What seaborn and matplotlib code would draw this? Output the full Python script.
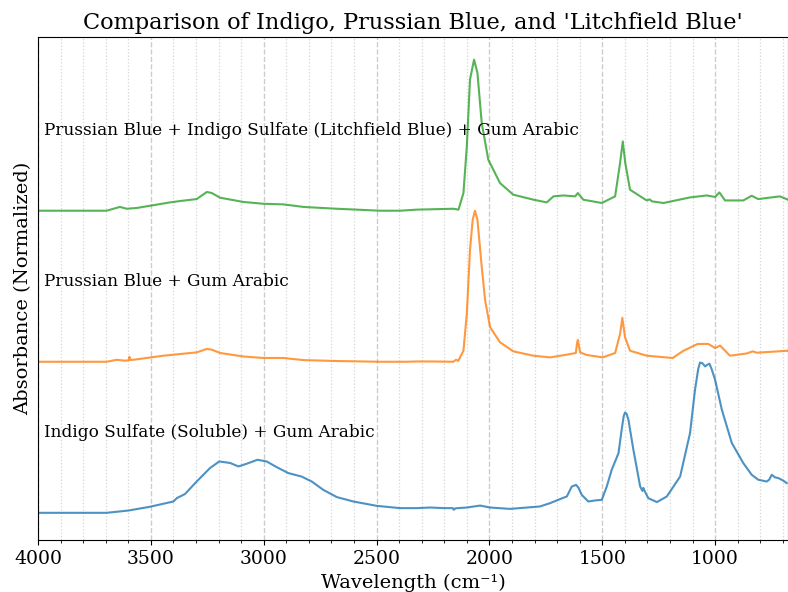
import numpy as np
import pandas as pd
import matplotlib
matplotlib.use("Agg")
import matplotlib.pyplot as plt
import seaborn as sns
from matplotlib.ticker import MultipleLocator

indigo_wn = [4000, 3850, 3696, 3600, 3504, 3400, 3385, 3349, 3297, 3238, 3197, 3149, 3112,
             3075, 3028, 2987, 2942, 2891, 2832, 2787, 2736, 2676, 2603, 2499, 2396, 2322,
             2263, 2200, 2162, 2158, 2150, 2100, 2041, 1997, 1908, 1776, 1731, 1680, 1657,
             1635, 1616, 1605, 1591, 1562, 1530, 1502, 1480, 1458, 1428, 1414, 1405, 1399,
             1392, 1384, 1362, 1332, 1322, 1318, 1314, 1296, 1258, 1214, 1155, 1111, 1089,
             1075, 1067, 1056, 1044, 1035, 1025, 1015, 1000, 970, 926, 875, 838, 809, 771,
             760, 749, 735, 720, 700, 683]
indigo_ab = [0.0, 0.0, 0.0, 0.015, 0.04, 0.075, 0.097, 0.124, 0.207, 0.296, 0.34, 0.33, 0.307,
             0.325, 0.351, 0.34, 0.302, 0.263, 0.24, 0.207, 0.152, 0.104, 0.075, 0.046, 0.031, 0.031,
             0.035, 0.031, 0.031, 0.02, 0.03, 0.035, 0.048, 0.035, 0.026, 0.042, 0.064, 0.095, 0.108,
             0.174, 0.185, 0.165, 0.119, 0.075, 0.082, 0.086, 0.174, 0.285, 0.395, 0.55, 0.64, 0.664,
             0.655, 0.616, 0.417, 0.174, 0.145, 0.165, 0.15, 0.097, 0.071, 0.108, 0.24, 0.528, 0.815,
             0.95, 0.995, 0.99, 0.969, 0.98, 0.987, 0.95, 0.88, 0.682, 0.462, 0.329, 0.252, 0.219, 0.207,
             0.22, 0.252, 0.235, 0.23, 0.215, 0.197]

prussian_wn = [4000, 3850, 3696, 3651, 3614, 3598, 3595, 3590, 3578, 3445, 3297, 3252, 3230,
               3193, 3090, 3002, 2913, 2824, 2676, 2485, 2366, 2322, 2263, 2160, 2148, 2138,
               2115, 2100, 2086, 2074, 2064, 2053, 2034, 2019, 1997, 1953, 1894, 1805, 1731,
               1657, 1617, 1612, 1608, 1603, 1598, 1569, 1498, 1443, 1421, 1411, 1399, 1377,
               1303, 1188, 1140, 1077, 1030, 1000, 978, 934, 860, 833, 816, 677]
prussian_ab = [0.0, 0.0, 0.0, 0.013, 0.007, 0.01, 0.033, 0.012, 0.013, 0.04, 0.062, 0.085, 0.08,
               0.058, 0.035, 0.025, 0.025, 0.011, 0.005, 0.0, 0.0, 0.002, 0.002, 0.0, 0.013, 0.006,
               0.073, 0.318, 0.74, 0.94, 1.0, 0.94, 0.629, 0.407, 0.229, 0.129, 0.069, 0.04, 0.029,
               0.047, 0.058, 0.12, 0.145, 0.1, 0.062, 0.045, 0.029, 0.058, 0.185, 0.291, 0.162, 0.073,
               0.04, 0.025, 0.073, 0.118, 0.118, 0.091, 0.107, 0.04, 0.055, 0.069, 0.06, 0.073]

litchfield_wn = [4000, 3850, 3696, 3637, 3607, 3563, 3415, 3371, 3297, 3252, 3230, 3193, 3090,
                 3002, 2913, 2824, 2676, 2485, 2396, 2322, 2160, 2137, 2115, 2100, 2086, 2068,
                 2053, 2034, 2005, 1953, 1894, 1805, 1746, 1716, 1672, 1620, 1608, 1584, 1502,
                 1443, 1421, 1409, 1398, 1377, 1303, 1290, 1280, 1229, 1111, 1037, 1000, 981, 956,
                 875, 838, 809, 713, 677]
litchfield_ab = [0.0, 0.0, 0.0, 0.025, 0.013, 0.018, 0.055, 0.064, 0.077, 0.124, 0.117, 0.086,
                 0.058, 0.046, 0.042, 0.025, 0.013, 0.0, 0.0, 0.007, 0.013, 0.007, 0.117, 0.426, 0.868,
                 1.0, 0.912, 0.581, 0.338, 0.183, 0.106, 0.073, 0.055, 0.095, 0.101, 0.095, 0.117,
                 0.073, 0.051, 0.095, 0.316, 0.459, 0.316, 0.139, 0.068, 0.075, 0.062, 0.051, 0.088,
                 0.101, 0.091, 0.121, 0.068, 0.068, 0.099, 0.077, 0.095, 0.073]

labels = ["Indigo Sulfate (Soluble) + Gum Arabic",
          "Prussian Blue + Gum Arabic",
          "Prussian Blue + Indigo Sulfate (Litchfield Blue) + Gum Arabic"]
offsets = [0.0, 1.0, 2.0]
colors = ["#1f77b4", "#ff7f0e", "#2ca02c"]

plt.rcParams['font.family'] = ['DejaVu Serif']

fig = plt.figure(figsize=(7.88, 5.92), dpi=100)
ax = fig.add_axes([38 / 788, 52 / 592, 750 / 788, 503 / 592])

spectra = [(indigo_wn, indigo_ab), (prussian_wn, prussian_ab), (litchfield_wn, litchfield_ab)]
for (wn, ab), off, col, lab in zip(spectra, offsets, colors, labels):
    df = pd.DataFrame({"wn": wn, "ab": np.array(ab) + off})
    sns.lineplot(data=df, x="wn", y="ab", ax=ax, color=col, alpha=0.8, linewidth=1.5)
    ax.text(3975, off + 0.53, lab, fontsize=12.2, va="center", ha="left")

ax.set_xlim(4000, 677)
ax.set_ylim(-0.18, 3.15)
ax.xaxis.set_major_locator(MultipleLocator(500))
ax.xaxis.set_minor_locator(MultipleLocator(100))
ax.grid(which="major", axis="x", linestyle="--", color="#cccccc", linewidth=1)
ax.grid(which="minor", axis="x", linestyle=":", color="#d5d5d5", linewidth=0.9)
ax.set_yticks([])
ax.tick_params(axis="x", labelsize=13.5)
ax.set_xlabel("Wavelength (cm⁻¹)", fontsize=14)
ax.set_ylabel("Absorbance (Normalized)", fontsize=14)
ax.set_title("Comparison of Indigo, Prussian Blue, and 'Litchfield Blue'", fontsize=16.2)

fig.savefig("out.png", dpi=100)
